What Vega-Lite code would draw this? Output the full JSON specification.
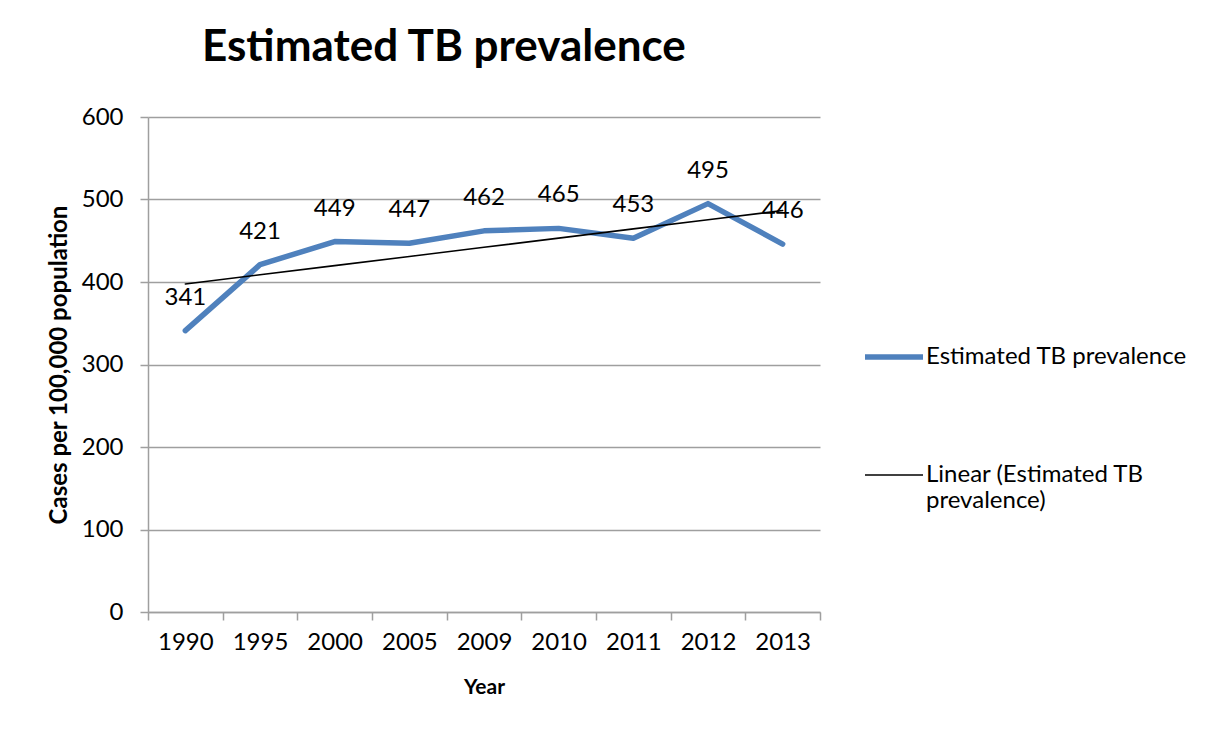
{
  "$schema": "https://vega.github.io/schema/vega-lite/v6.json",
  "width": 672,
  "height": 495,
  "autosize": {"type": "none"},
  "padding": {"left": 148, "top": 117, "right": 397, "bottom": 120},
  "background": "white",
  "config": {
    "font": "Lato",
    "view": {"stroke": null},
    "axis": {"labelFont": "Lato", "titleFont": "Lato", "labelColor": "black", "titleColor": "black"}
  },
  "title": {
    "text": "Estimated TB prevalence",
    "font": "Lato",
    "fontSize": 44,
    "fontWeight": "bold",
    "color": "black",
    "anchor": "start",
    "frame": "group",
    "dx": 54,
    "offset": 35
  },
  "data": {
    "values": [
      {"year": "1990", "series": "Estimated TB prevalence", "value": 341},
      {"year": "1995", "series": "Estimated TB prevalence", "value": 421},
      {"year": "2000", "series": "Estimated TB prevalence", "value": 449},
      {"year": "2005", "series": "Estimated TB prevalence", "value": 447},
      {"year": "2009", "series": "Estimated TB prevalence", "value": 462},
      {"year": "2010", "series": "Estimated TB prevalence", "value": 465},
      {"year": "2011", "series": "Estimated TB prevalence", "value": 453},
      {"year": "2012", "series": "Estimated TB prevalence", "value": 495},
      {"year": "2013", "series": "Estimated TB prevalence", "value": 446},
      {"year": "1990", "series": "Linear (Estimated TB prevalence)", "value": 397.6},
      {"year": "1995", "series": "Linear (Estimated TB prevalence)", "value": 408.7},
      {"year": "2000", "series": "Linear (Estimated TB prevalence)", "value": 419.8},
      {"year": "2005", "series": "Linear (Estimated TB prevalence)", "value": 431.0},
      {"year": "2009", "series": "Linear (Estimated TB prevalence)", "value": 442.1},
      {"year": "2010", "series": "Linear (Estimated TB prevalence)", "value": 453.2},
      {"year": "2011", "series": "Linear (Estimated TB prevalence)", "value": 464.4},
      {"year": "2012", "series": "Linear (Estimated TB prevalence)", "value": 475.5},
      {"year": "2013", "series": "Linear (Estimated TB prevalence)", "value": 486.6}
    ]
  },
  "encoding": {
    "x": {
      "field": "year",
      "type": "ordinal",
      "bandPosition": 0.5,
      "scale": {"type": "band", "paddingInner": 0, "paddingOuter": 0},
      "axis": {
        "title": "Year",
        "titleFontSize": 21,
        "titleFontWeight": "bold",
        "titlePadding": 22,
        "labelAngle": 0,
        "labelFontSize": 24,
        "labelPadding": 10,
        "tickBand": "extent",
        "ticks": true,
        "tickSize": 8,
        "tickColor": "#9F9F9F",
        "tickWidth": 1.5,
        "domainColor": "#9F9F9F",
        "domainWidth": 1.5,
        "grid": false
      }
    },
    "y": {
      "field": "value",
      "type": "quantitative",
      "scale": {"domain": [0, 600], "nice": false},
      "axis": {
        "title": "Cases per 100,000 population",
        "titleFontSize": 24,
        "titleFontWeight": "bold",
        "titlePadding": 10,
        "values": [0, 100, 200, 300, 400, 500, 600],
        "labelFontSize": 24,
        "labelPadding": 17,
        "tickSize": 8,
        "tickColor": "#9F9F9F",
        "tickWidth": 1.5,
        "domainColor": "#9F9F9F",
        "domainWidth": 1.5,
        "grid": true,
        "gridColor": "#9F9F9F",
        "gridWidth": 1.5
      }
    }
  },
  "layer": [
    {
      "mark": {"type": "line", "strokeCap": "round", "strokeJoin": "round"},
      "encoding": {
        "detail": {"field": "series"},
        "color": {
          "field": "series",
          "type": "nominal",
          "scale": {"domain": ["Estimated TB prevalence", "Linear (Estimated TB prevalence)"], "range": ["#4F81BD", "#000000"]},
          "legend": {
            "title": null,
            "orient": "none",
            "legendX": 714,
            "legendY": 208,
            "symbolType": "stroke",
            "symbolSize": 3364,
            "labelFontSize": 24,
            "labelFont": "Lato",
            "labelColor": "black",
            "labelOffset": 0,
            "labelLimit": 400,
            "rowPadding": 76,
            "labelExpr": "datum.label == 'Linear (Estimated TB prevalence)' ? ['Linear (Estimated TB', 'prevalence)'] : datum.label"
          }
        },
        "strokeWidth": {
          "field": "series",
          "type": "nominal",
          "scale": {"domain": ["Estimated TB prevalence", "Linear (Estimated TB prevalence)"], "range": [5.5, 1.6]},
          "legend": {
            "title": null,
            "orient": "none",
            "legendX": 714,
            "legendY": 208,
            "symbolType": "stroke",
            "symbolSize": 3364,
            "labelFontSize": 24,
            "labelFont": "Lato",
            "labelColor": "black",
            "labelOffset": 0,
            "labelLimit": 400,
            "rowPadding": 76,
            "labelExpr": "datum.label == 'Linear (Estimated TB prevalence)' ? ['Linear (Estimated TB', 'prevalence)'] : datum.label"
          }
        }
      }
    },
    {
      "transform": [{"filter": "datum.series == 'Estimated TB prevalence'"}],
      "mark": {"type": "text", "dy": -33, "fontSize": 24, "font": "Lato", "color": "black"},
      "encoding": {
        "text": {"field": "value", "type": "quantitative"}
      }
    }
  ]
}
